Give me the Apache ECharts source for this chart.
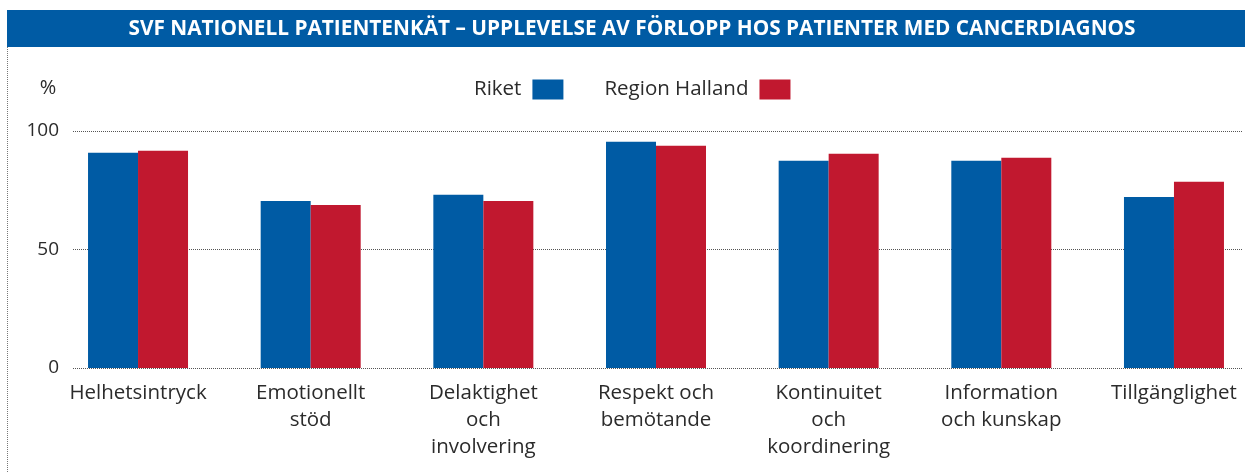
<!DOCTYPE html>
<html><head><meta charset="utf-8">
<script src="https://cdn.jsdelivr.net/npm/echarts@6/dist/echarts.min.js"></script>
<style>html,body{margin:0;padding:0;background:#fff}#c{width:1245px;height:473px}</style>
</head><body><div id="c"></div>
<script>
const titleText = 'SVF NATIONELL PATIENTENKÄT – UPPLEVELSE AV FÖRLOPP HOS PATIENTER MED CANCERDIAGNOS';
const categories = ['Helhetsintryck','Emotionellt\nstöd','Delaktighet\noch\ninvolvering','Respekt och\nbemötande','Kontinuitet\noch\nkoordinering','Information\noch kunskap','Tillgänglighet'];
const seriesNames = ['Riket','Region Halland'];
const riket = [90.8, 70.5, 73.1, 95.5, 87.4, 87.4, 72.2];
const halland = [91.7, 68.8, 70.5, 93.8, 90.4, 88.7, 78.6];
const yTicks = [0, 50, 100];

const BLUE = '#005BA4', RED = '#C1182F', TXT = '#2b2b2b';
const FONT = 'Open Sans';
const chart = echarts.init(document.getElementById('c'), null, {renderer:'canvas'});
chart.setOption({
  animation:false,
  textStyle:{fontFamily:FONT},
  graphic:[
    {type:'rect', shape:{x:7, y:10, width:1238, height:37}, style:{fill:BLUE}, silent:true},
    {type:'text', x:632, y:29, style:{text:titleText, fill:'#fff', font:'bold 20.8px "'+FONT+'"', textAlign:'center', textVerticalAlign:'middle'}},
    {type:'line', shape:{x1:7.5, y1:47, x2:7.5, y2:473}, style:{stroke:'#777', lineWidth:1, lineDash:[1,1]}},
    {type:'text', x:48, y:88, style:{text:'%', fill:TXT, font:'20px "'+FONT+'"', textAlign:'center', textVerticalAlign:'middle'}}
  ],
  legend:{
    data:seriesNames, left:469, top:74, align:'right', itemWidth:31, itemHeight:20, itemGap:41,
    icon:'rect', textStyle:{fontSize:20.5, color:TXT, fontFamily:FONT, padding:[0,6,0,0]}
  },
  grid:[
    {left:73, right:3, top:131, bottom:105, outerBoundsMode:'none'},
    {left:51.7, width:1208.6, top:131, bottom:105, outerBoundsMode:'none'}
  ],
  xAxis:[
    {type:'value', gridIndex:0, show:false, min:0, max:1},
    {type:'category', gridIndex:1, data:categories,
      axisLine:{show:false}, axisTick:{show:false},
      axisLabel:{fontSize:20.5, color:TXT, lineHeight:27, margin:12, interval:0, fontFamily:FONT}}
  ],
  yAxis:[
    {type:'value', gridIndex:0, min:0, max:100, interval:50,
      axisLine:{show:false}, axisTick:{show:false},
      axisLabel:{fontSize:19, color:TXT, margin:14, fontFamily:FONT, customValues:yTicks},
      splitLine:{show:true, lineStyle:{color:'#555', type:[1,1], width:1}}},
    {type:'value', gridIndex:1, min:0, max:100, interval:50, show:false, splitLine:{show:false}}
  ],
  series:[
    {name:seriesNames[0], type:'bar', xAxisIndex:1, yAxisIndex:1, data:riket, barWidth:50, barGap:'0%', itemStyle:{color:BLUE}},
    {name:seriesNames[1], type:'bar', xAxisIndex:1, yAxisIndex:1, data:halland, barWidth:50, barGap:'0%', itemStyle:{color:RED}}
  ]
});
</script></body></html>
